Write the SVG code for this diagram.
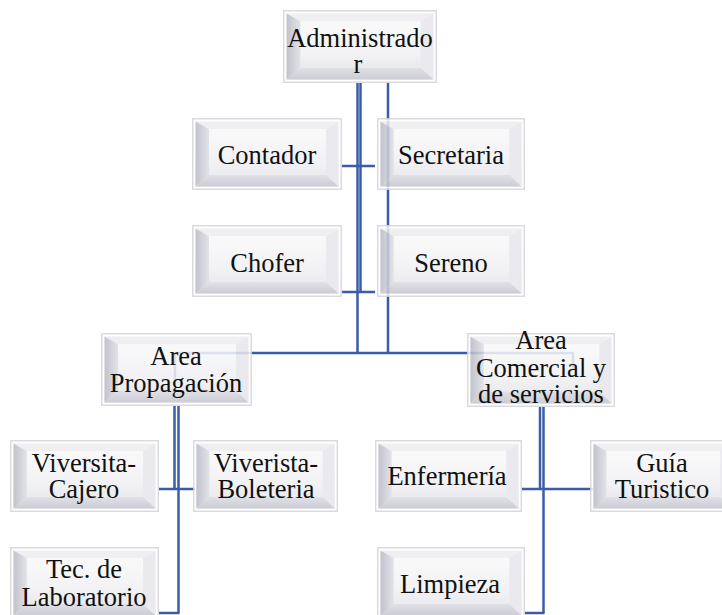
<svg xmlns="http://www.w3.org/2000/svg" xmlns:xlink="http://www.w3.org/1999/xlink" width="722" height="615" viewBox="0 0 722 615">
<style>
.ln{fill:none;stroke:#3b5ca6;stroke-width:2.5}
.t{font-family:"Liberation Serif","Times New Roman",serif;font-size:26.5px;fill:#111;text-anchor:middle}
.bx{opacity:0.86}
</style>
<defs>
<linearGradient id="gFace" x1="0" y1="0" x2="0" y2="1">
<stop offset="0" stop-color="#fbfbfc"/><stop offset="0.6" stop-color="#f1f1f4"/><stop offset="1" stop-color="#e2e2e8"/>
</linearGradient>
<linearGradient id="gLeft" x1="0" y1="0" x2="1" y2="0">
<stop offset="0" stop-color="#b9b9c5"/><stop offset="1" stop-color="#dedee6"/>
</linearGradient>
<linearGradient id="gBot" x1="0" y1="0" x2="0" y2="1">
<stop offset="0" stop-color="#dcdce3"/><stop offset="1" stop-color="#c4c4ce"/>
</linearGradient>
<symbol id="bx" viewBox="0 0 150 72" preserveAspectRatio="none">
<rect x="0.75" y="0.75" width="148.5" height="70.5" fill="#ffffff" stroke="#d6d6da" stroke-width="1.5"/>
<rect x="3.5" y="3.5" width="143" height="65" fill="url(#gFace)"/>
<polygon points="3.5,3.5 146.5,3.5 134,11 17,11" fill="#ededf1"/>
<polygon points="3.5,3.5 17,11 17,57 3.5,68.5" fill="url(#gLeft)"/>
<polygon points="146.5,3.5 146.5,68.5 134,57 134,11" fill="#e7e7ec"/>
<polygon points="3.5,68.5 17,57 134,57 146.5,68.5" fill="url(#gBot)"/>
</symbol>
</defs>
<rect width="722" height="615" fill="#ffffff"/>
<g id="connectors">
<path class="ln" d="M360.5,83 V292"/>
<path class="ln" d="M357.5,83 V353"/>
<path class="ln" d="M388,83 V353"/>
<path class="ln" d="M342,166 H375"/>
<path class="ln" d="M342,292 H375"/>
<path class="ln" d="M175,383 V353 H573 V370"/>
<path class="ln" d="M174.5,406 V489"/>
<path class="ln" d="M178.5,406 V613"/>
<path class="ln" d="M159,489 H195"/>
<path class="ln" d="M159,613 H179.5"/>
<path class="ln" d="M540,407 V489"/>
<path class="ln" d="M543.5,407 V613"/>
<path class="ln" d="M522,489 H593"/>
<path class="ln" d="M525,613 H544.5"/>
</g>
<g id="administrador"><use class="bx" xlink:href="#bx" x="283" y="10" width="154" height="73"/><text class="t" x="360" y="47">Administrado</text><text class="t" x="358" y="73">r</text></g>
<g id="contador"><use class="bx" xlink:href="#bx" x="192" y="118" width="150" height="72"/><text class="t" x="267" y="164">Contador</text></g>
<g id="secretaria"><use class="bx" xlink:href="#bx" x="377" y="118" width="148" height="72"/><text class="t" x="451" y="164">Secretaria</text></g>
<g id="chofer"><use class="bx" xlink:href="#bx" x="192" y="225" width="150" height="72"/><text class="t" x="267" y="272">Chofer</text></g>
<g id="sereno"><use class="bx" xlink:href="#bx" x="377" y="225" width="148" height="72"/><text class="t" x="451" y="272">Sereno</text></g>
<g id="area-propagacion"><use class="bx" xlink:href="#bx" x="101" y="333" width="151" height="73"/><text class="t" x="176" y="365">Area</text><text class="t" x="176" y="392">Propagación</text></g>
<g id="area-comercial"><use class="bx" xlink:href="#bx" x="467" y="333" width="148" height="74"/><text class="t" x="541" y="349">Area</text><text class="t" x="541" y="377">Comercial y</text><text class="t" x="541" y="403">de servicios</text></g>
<g id="viversita-cajero"><use class="bx" xlink:href="#bx" x="10" y="440" width="149" height="72"/><text class="t" x="84" y="472">Viversita-</text><text class="t" x="84" y="498">Cajero</text></g>
<g id="viverista-boleteria"><use class="bx" xlink:href="#bx" x="193" y="440" width="145" height="72"/><text class="t" x="266" y="472">Viverista-</text><text class="t" x="266" y="498">Boleteria</text></g>
<g id="tec-laboratorio"><use class="bx" xlink:href="#bx" x="10" y="547" width="149" height="72"/><text class="t" x="84" y="578">Tec. de</text><text class="t" x="84" y="606">Laboratorio</text></g>
<g id="enfermeria"><use class="bx" xlink:href="#bx" x="375" y="440" width="147" height="72"/><text class="t" x="447" y="485">Enfermería</text></g>
<g id="guia-turistico"><use class="bx" xlink:href="#bx" x="590" y="440" width="146" height="72"/><text class="t" x="662" y="472">Guía</text><text class="t" x="662" y="498">Turistico</text></g>
<g id="limpieza"><use class="bx" xlink:href="#bx" x="377" y="547" width="148" height="72"/><text class="t" x="450" y="593">Limpieza</text></g>
</svg>
